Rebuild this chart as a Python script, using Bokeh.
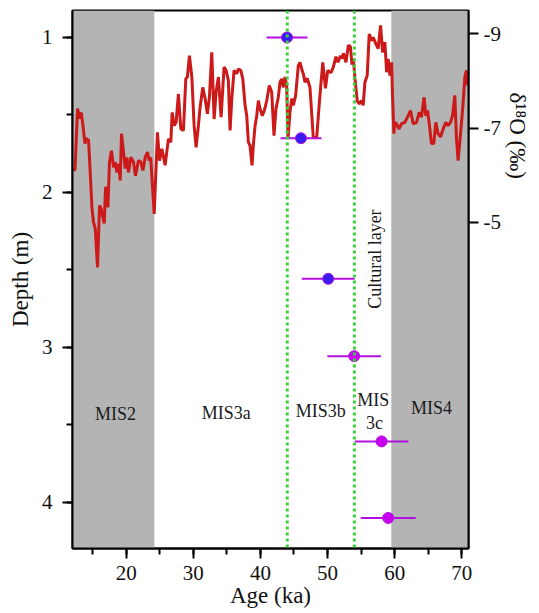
import math
from bokeh.plotting import figure
from bokeh.models import (Range1d, LinearAxis, BoxAnnotation, Span, Title,
                          SingleIntervalTicker, FixedTicker, ColumnDataSource,
                          PrintfTickFormatter)
from bokeh.core.properties import value
from bokeh.embed import file_html
from bokeh.resources import INLINE

# ---- δ18O record (age in ka, δ18O in ‰) ----
age_ka = [12.16, 12.37, 12.75, 13.05, 13.30, 13.56, 13.85, 14.05, 14.39, 14.64,
          14.90, 15.13, 15.39, 15.73, 16.03, 16.28, 16.47, 16.73, 16.92, 17.13,
          17.28, 17.51, 17.81, 18.11, 18.36, 18.62, 18.91, 19.11, 19.30, 19.60,
          19.85, 20.10, 20.34, 20.70, 21.09, 21.38, 21.83, 22.19, 22.49, 22.83,
          23.17, 23.42, 23.65, 24.17, 24.66, 24.96, 25.31, 25.80, 26.29, 26.65,
          26.85, 27.14, 27.44, 27.78, 28.14, 28.53, 28.88, 29.12, 29.42, 29.78,
          30.12, 30.42, 30.76, 31.01, 31.41, 31.76, 32.10, 32.40, 32.75, 33.10,
          33.39, 33.74, 34.14, 34.58, 34.88, 35.22, 35.48, 35.73, 36.07, 36.47,
          36.71, 37.07, 37.37, 37.71, 37.96, 38.20, 38.45, 38.75, 38.94, 39.20,
          39.45, 39.69, 39.94, 40.28, 40.58, 40.94, 41.32, 41.68, 42.02, 42.32,
          42.66, 42.92, 43.17, 43.41, 43.66, 43.91, 44.11, 44.40, 44.66, 44.90,
          45.25, 45.64, 45.89, 46.15, 46.38, 46.64, 46.98, 47.38, 47.87, 48.38,
          48.79, 49.29, 49.69, 50.03, 50.51, 50.88, 51.25, 51.55, 51.92, 52.14,
          52.37, 52.74, 53.11, 53.41, 53.63, 53.85, 54.08, 54.42, 54.72, 55.07,
          55.31, 55.57, 55.91, 56.21, 56.56, 56.80, 57.20, 57.54, 57.90, 58.20,
          58.54, 58.80, 59.03, 59.29, 59.54, 59.69, 59.88, 60.03, 60.28, 60.62,
          61.03, 61.52, 62.01, 62.37, 62.75, 63.26, 63.65, 64.00, 64.38, 64.64,
          64.90, 65.13, 65.49, 65.83, 66.13, 66.47, 66.83, 67.22, 67.62, 67.96,
          68.32, 68.62, 68.96, 69.21, 69.45, 69.70, 69.96, 70.19, 70.45, 70.70,
          70.79]
d18o = [-6.14, -6.10, -7.41, -7.20, -7.33, -7.05, -6.67, -6.78, -6.74, -6.06,
        -5.30, -5.01, -4.87, -4.05, -5.36, -5.29, -5.15, -4.98, -5.75, -5.68,
        -5.32, -6.28, -6.52, -6.17, -6.28, -6.06, -6.24, -5.89, -6.88, -6.49,
        -6.14, -6.38, -6.06, -6.38, -6.28, -5.99, -6.31, -6.28, -6.10, -6.38,
        -6.49, -6.31, -6.38, -5.18, -6.91, -6.31, -6.56, -6.21, -6.77, -6.70,
        -7.33, -7.05, -7.12, -7.72, -6.98, -6.95, -8.04, -8.08, -8.53, -8.08,
        -7.05, -6.59, -7.05, -7.44, -7.86, -7.62, -7.30, -7.65, -8.60, -7.19,
        -7.76, -8.08, -7.23, -8.29, -8.22, -8.01, -6.95, -7.62, -8.22, -8.15,
        -8.25, -8.22, -8.04, -7.48, -7.26, -6.70, -6.63, -6.21, -6.63, -7.05,
        -7.26, -7.58, -7.41, -7.26, -7.37, -7.58, -7.90, -7.76, -6.84, -7.41,
        -7.65, -7.97, -8.04, -7.86, -8.08, -7.90, -6.77, -7.33, -7.62, -7.48,
        -7.69, -8.32, -8.39, -8.25, -8.15, -7.97, -8.05, -7.86, -6.81, -6.79,
        -7.56, -8.39, -7.84, -8.22, -8.17, -8.30, -8.51, -8.39, -8.53, -8.47,
        -8.58, -8.39, -8.75, -8.72, -8.34, -8.47, -8.05, -7.58, -7.51, -7.58,
        -7.48, -7.97, -8.11, -8.99, -8.85, -8.92, -8.78, -8.68, -9.17, -8.60,
        -8.82, -8.18, -8.46, -8.11, -8.39, -7.65, -6.88, -7.12, -7.09, -6.98,
        -7.09, -7.12, -7.26, -7.37, -7.09, -7.12, -7.33, -7.23, -7.65, -7.26,
        -7.37, -7.12, -6.67, -6.67, -7.12, -6.88, -6.81, -6.98, -7.12, -7.05,
        -7.12, -7.26, -7.69, -6.77, -6.31, -6.70, -7.12, -7.51, -8.08, -8.22,
        -7.90]

# ---- dating results (age ka, ±error ka, depth m) ----
date_age = [43.96, 46.04, 50.10, 53.97, 58.05, 59.03]
date_err = [3.05, 3.05, 3.95, 4.00, 4.00, 4.10]
date_depth = [1.00, 1.65, 2.557, 3.056, 3.606, 4.10]
date_color = ["#3a1cf2", "#3a1cf2", "#3a1cf2", "#c800ee", "#c800ee", "#c800ee"]

# ---- stage bands / boundaries ----
glacial_bands = [(12.0, 24.2), (59.5, 71.0)]
cultural_bounds = [44.0, 54.0]

stage_labels = ["MIS2", "MIS3a", "MIS3b", "MIS", "3c", "MIS4"]
stage_label_age = [18.4, 34.9, 49.0, 56.8, 57.0, 65.5]
stage_label_depth = [3.43, 3.42, 3.41, 3.34, 3.49, 3.39]

FONT = "Times New Roman"

p = figure(width=539, height=613,
           x_range=Range1d(12, 71), y_range=Range1d(4.297, 0.826),
           output_backend="svg", toolbar_location=None,
           min_border_left=72, min_border_right=71,
           min_border_top=10, min_border_bottom=65,
           background_fill_color="white", border_fill_color="white")
p.outline_line_color = "black"
p.outline_line_width = 2
p.xgrid.visible = False
p.ygrid.visible = False

p.extra_y_ranges = {"d18": Range1d(start=1.90, end=-9.487)}

for lo, hi in glacial_bands:
    p.add_layout(BoxAnnotation(left=lo, right=hi, fill_color="#b4b4b4",
                               fill_alpha=1.0, line_alpha=0, level="underlay"))

# δ18O curve
p.line(age_ka, d18o, y_range_name="d18", line_color="#cc1a1a", line_width=3)

# dating error bars and points
src = ColumnDataSource(dict(
    x=date_age, y=date_depth,
    x0=[a - e for a, e in zip(date_age, date_err)],
    x1=[a + e for a, e in zip(date_age, date_err)],
    c=date_color))
p.segment(x0="x0", y0="y", x1="x1", y1="y", source=src,
          line_color="#b30fe0", line_width=2)
p.scatter(x="x", y="y", source=src, size=11, fill_color="c",
          line_color="#b30fe0", line_width=1)

for loc in cultural_bounds:
    p.add_layout(Span(location=loc, dimension="height", line_color="#3bd13b",
                      line_width=3, line_dash="3 3"))

p.text(x=stage_label_age, y=stage_label_depth, text=stage_labels,
       text_font=value(FONT), text_font_size="18px", text_color="#1a1a1a",
       text_align="center", text_baseline="middle")
p.text(x=[57.0], y=[2.43], text=["Cultural layer"], angle=math.pi / 2,
       text_font=value(FONT), text_font_size="18px", text_color="#1a1a1a",
       text_align="center", text_baseline="middle")

def style_axis(ax, tick_out, standoff):
    ax.major_label_text_font = FONT
    ax.major_label_text_font_size = "21px"
    ax.major_label_text_color = "#111111"
    ax.major_label_standoff = standoff
    ax.axis_label_text_font = FONT
    ax.axis_label_text_font_size = "23px"
    ax.axis_label_text_font_style = "normal"
    ax.axis_label_text_color = "#111111"
    ax.axis_line_width = 2
    ax.axis_line_color = "black"
    ax.major_tick_line_width = 2
    ax.minor_tick_line_width = 2
    ax.major_tick_out = tick_out
    ax.major_tick_in = 0
    ax.minor_tick_out = 6
    ax.minor_tick_in = 0

xa = p.xaxis[0]
xa.ticker = SingleIntervalTicker(interval=10, num_minor_ticks=2)
style_axis(xa, 10, 7)
xa.axis_label = "Age (ka)"
xa.axis_label_standoff = 0

ya = p.yaxis[0]
ya.ticker = SingleIntervalTicker(interval=1, num_minor_ticks=2)
style_axis(ya, 10, 10)
ya.axis_label = "Depth (m)"
ya.axis_label_standoff = 6

ra = LinearAxis(y_range_name="d18",
                ticker=FixedTicker(ticks=[-9, -7, -5], minor_ticks=[]),
                formatter=PrintfTickFormatter(format="%d"))
style_axis(ra, 10, 5)
p.add_layout(ra, "right")

p.add_layout(Title(text="δ¹⁸O (‰)", align="left", vertical_align="middle",
                   offset=82, standoff=0, text_font=FONT,
                   text_font_size="23px", text_font_style="normal",
                   text_color="#111111"), "right")

open("out.html", "w").write(file_html(p, INLINE))
